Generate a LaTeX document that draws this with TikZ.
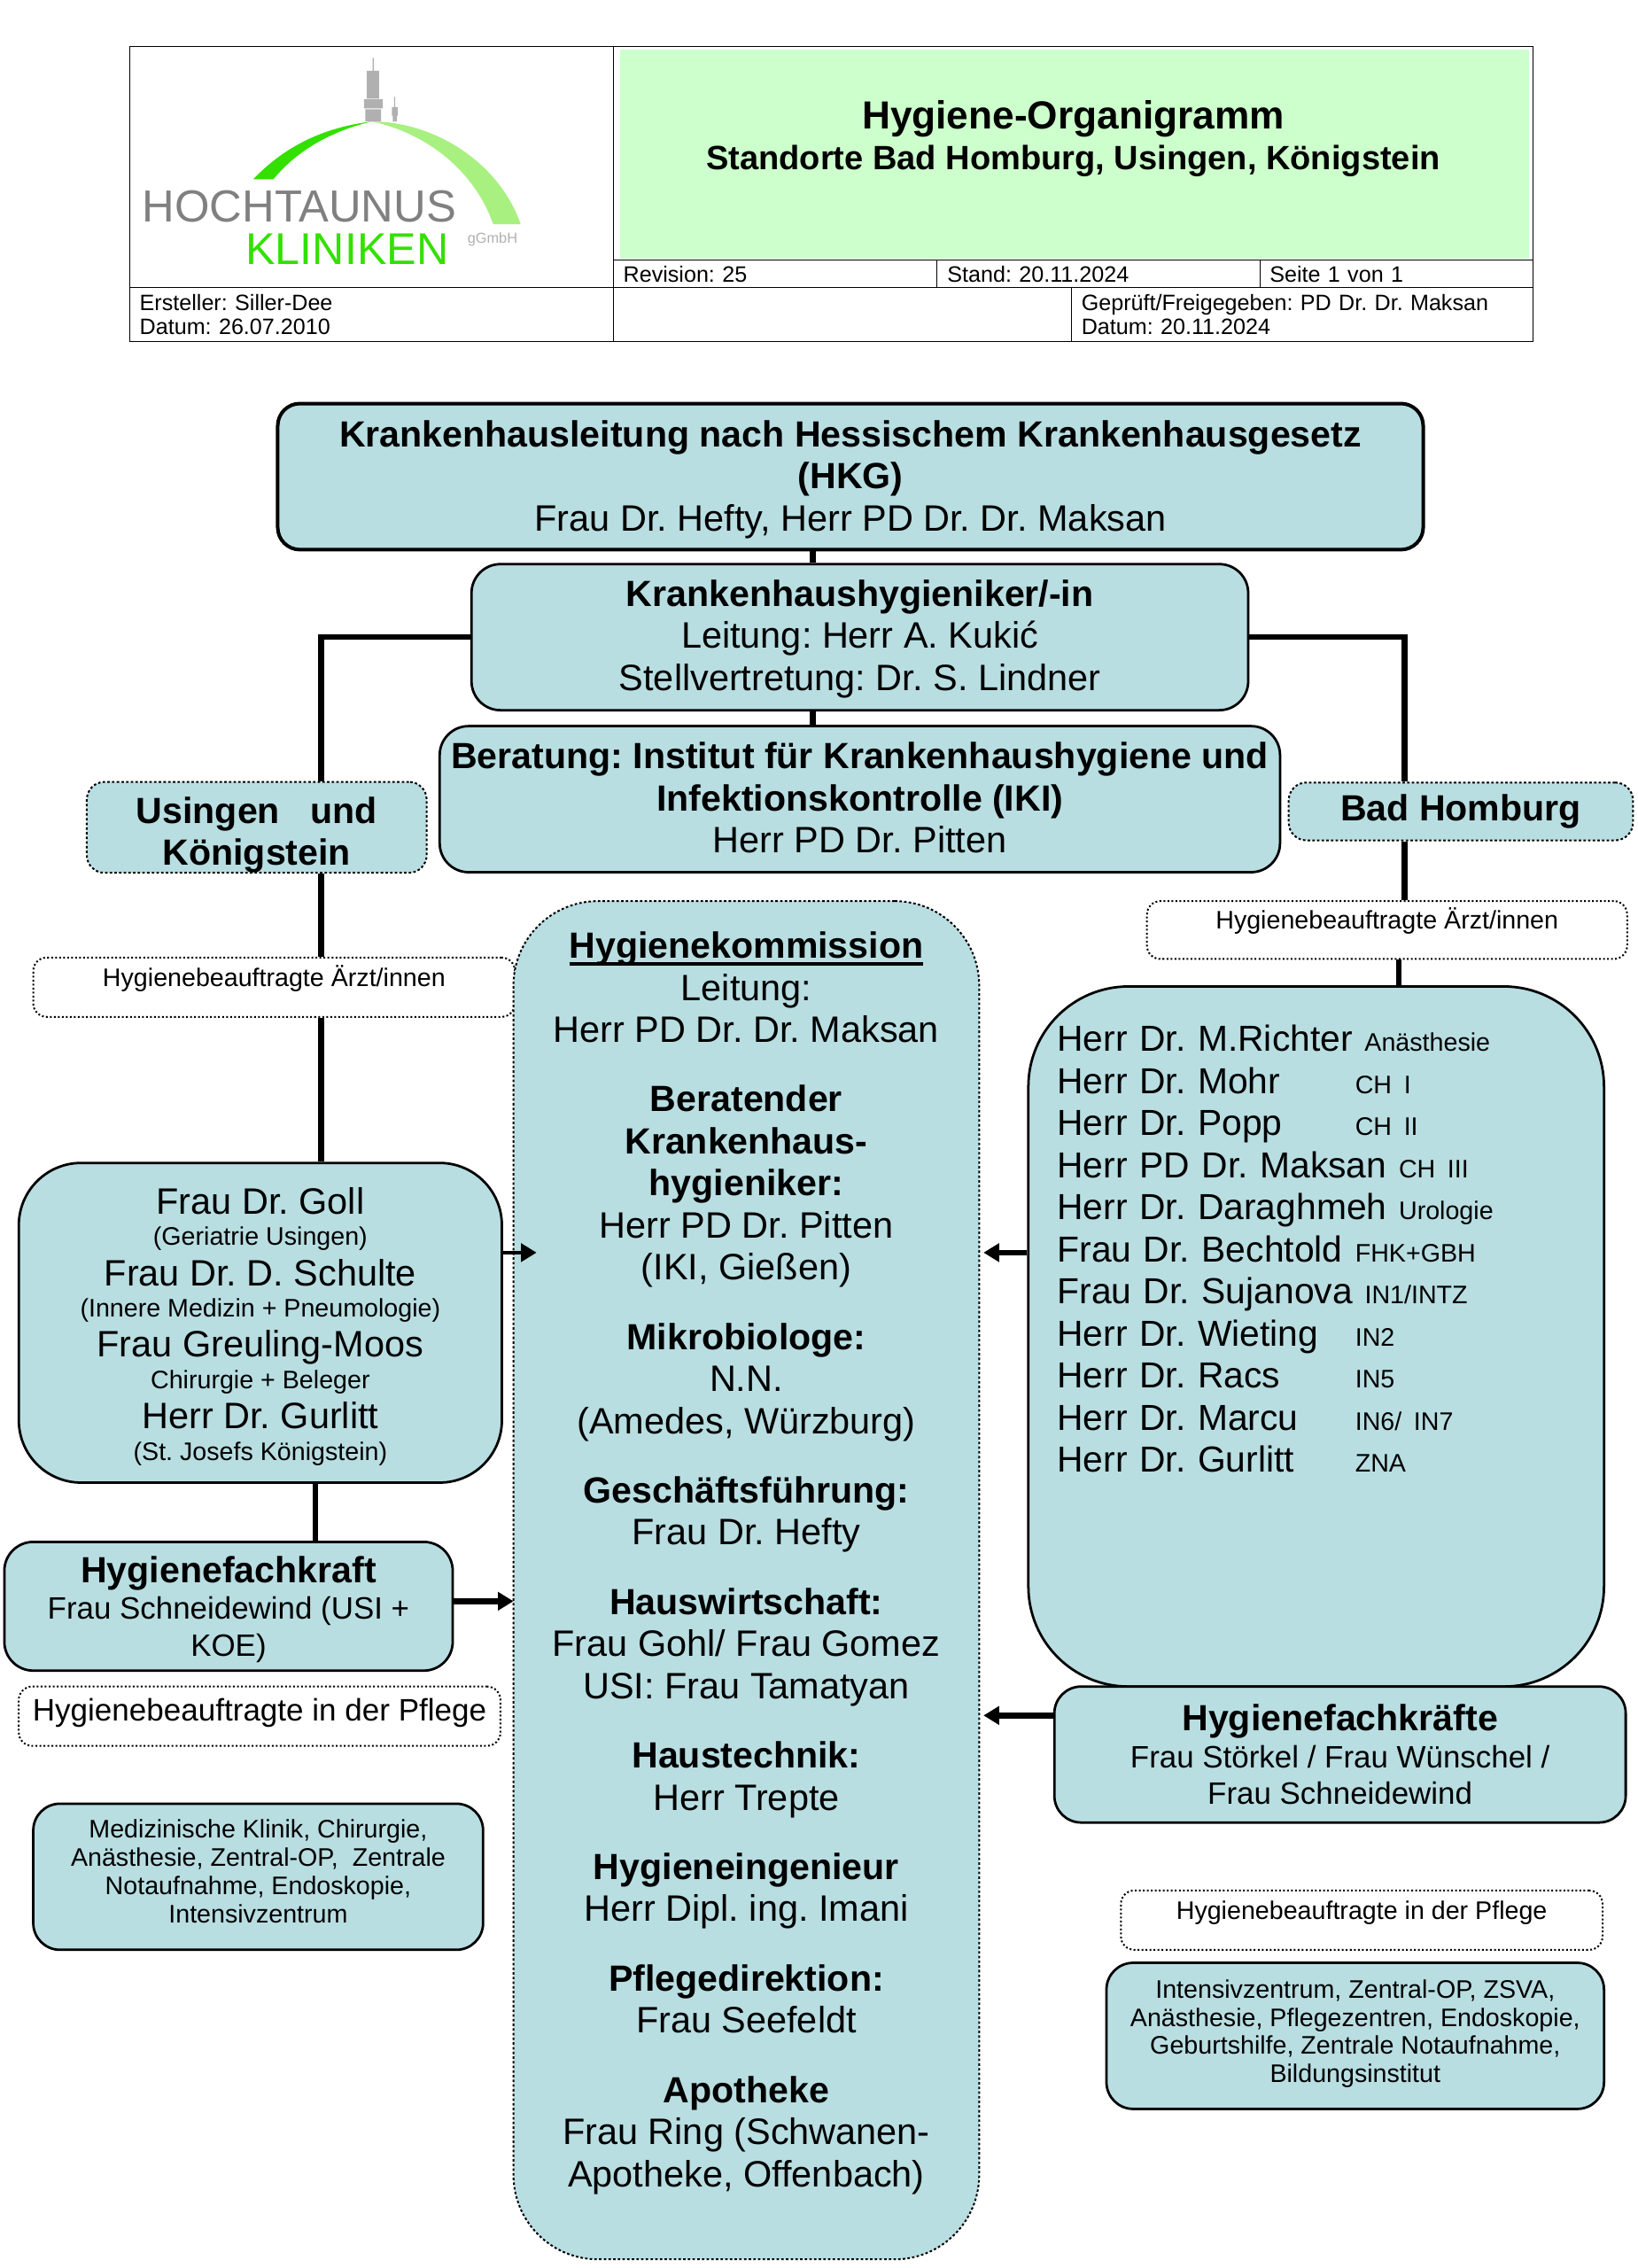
\documentclass[tikz,border=0pt]{standalone}
\usepackage{fontspec}
\setmainfont{Liberation Sans}
\usepackage{xcolor}
\usepackage{tikz}
\usetikzlibrary{positioning,calc,arrows.meta}
\definecolor{boxblue}{HTML}{B8DEE2}
\definecolor{titlegreen}{HTML}{CCFFCC}
\definecolor{logogreen}{HTML}{33E000}
\definecolor{logolight}{HTML}{A8F080}
\definecolor{logogray}{HTML}{808080}
\definecolor{towergray}{HTML}{B0B0B0}
\newcommand{\fsH}{\fontsize{16.37pt}{18.9pt}\selectfont\bfseries}
\newcommand{\fsN}{\fontsize{16.5pt}{18.9pt}\selectfont}
\newcommand{\fsS}{\fontsize{11.4pt}{12.7pt}\selectfont}
\newcommand{\fsT}{\fontsize{10pt}{11pt}\selectfont}
\newcommand{\doc}[2]{\makebox[133.9pt][l]{#1}{\fsS #2}}
\newcommand{\toppad}[1]{\rule{0pt}{#1}}
\newcommand{\botpad}[1]{\rule[-#1]{0pt}{#1}}
\newcommand{\kommline}[1]{\setbox0\hbox{#1}\rlap{\vrule width\wd0 height -1.9pt depth 3.5pt}\box0}
\tikzset{dim/.style 2 args={minimum width=#1*0.65pt, minimum height=#2*0.65pt}}
\tikzstyle{block} = [draw, line width=1.1pt, fill=boxblue, align=center, inner sep=0pt, font=\fsN]
\tikzstyle{dotblock} = [block, densely dotted, line width=0.8pt]
\tikzstyle{hbbox} = [draw, densely dotted, thick, fill=white, inner sep=0pt, font=\fsS, text height=7.5pt, text depth=8.5pt]
\tikzstyle{cell} = [draw, inner xsep=4pt, inner ysep=0pt, align=left, font=\fsT]
\tikzstyle{link} = [line width=2.6pt]
\tikzstyle{arrow} = [line width=2.6pt,-{Triangle[length=7pt,width=8pt]}]
\begin{document}
\frenchspacing
\begin{tikzpicture}[x=0.65pt, y=-0.65pt]
    \useasboundingbox (0,0) rectangle (1132,1568);
    % We start by placing the header
    \node [cell, dim={334}{167}] (logocell) at (257,115.5) {};
    \node [cell, dim={636}{148}] (titlecell) at (742,106) {};
    \fill [titlegreen] (429,34) rectangle (1057,179);
    \node [font=\fontsize{17.6pt}{20pt}\selectfont\bfseries, align=center, inner sep=0pt] (title) at (742,96) {Hygiene-Organigramm\\[-1.5pt]\fontsize{15.15pt}{18pt}\selectfont Standorte Bad Homburg, Usingen, Königstein};
    \node [cell, dim={224}{19}, text width=136.5pt] (revision) at (536,189.5) {Revision: 25};
    \node [cell, dim={223}{19}, text width=135.8pt] (stand) at (759.5,189.5) {Stand: 20.11.2024};
    \node [cell, dim={189}{19}, text width=113.9pt] (seite) at (965.5,189.5) {Seite 1 von 1};
    \node [cell, dim={334}{37}, text width=208.5pt] (ersteller) at (257,217.5) {Ersteller: Siller-Dee\\Datum: 26.07.2010};
    \node [cell, dim={317}{37}, text width=196pt] (leer) at (582.5,217.5) {};
    \node [cell, dim={319}{37}, text width=198.6pt] (geprueft) at (900.5,217.5) {Geprüft/Freigegeben: PD Dr. Dr. Maksan\\Datum: 20.11.2024};
    % Logo
    \fill [towergray] (257.6,40) rectangle (258.6,49) (253.6,49) rectangle (262,68) (251.7,68.5) rectangle (264.7,75) (252.5,75.5) rectangle (263.5,84);
    \fill [towergray] (272.5,67) rectangle (273.2,74) (271,74) rectangle (275,80) (271.6,80) rectangle (274.4,84);
    \fill [logogreen] (175,124) .. controls (198,100) and (225,88) .. (257,84) .. controls (232,90) and (207,102) .. (189,124) -- cycle;
    \fill [logolight] (257,84) .. controls (300,84) and (345,112) .. (360,155) -- (341,155) .. controls (328,118) and (295,92) .. (257,84) -- cycle;
    \node [text=logogray, font=\fontsize{20.2pt}{22pt}\selectfont, inner sep=0pt] (hochtaunus) at (207,143) {HOCHTAUNUS};
    \node [text=logogreen, font=\fontsize{20pt}{22pt}\selectfont, inner sep=0pt] (kliniken) at (240,172) {KLINIKEN};
    \node [text=towergray, font=\fontsize{6.5pt}{8pt}\selectfont, inner sep=0pt] (ggmbh) at (340.5,165.5) {gGmbH};
    % Top of the organigram
    \node [block, dim={792}{101}, line width=1.6pt, rounded corners=10pt] (khl) at (588,329.5) {{\fsH\toppad{14.3pt}Krankenhausleitung nach Hessischem Krankenhausgesetz}\\{\fsH (HKG)}\\Frau Dr. Hefty, Herr PD Dr. Dr. Maksan};
    \node [block, dim={537}{101}, rounded corners=13pt] (khh) at (594.5,440.5) {{\fsH\toppad{13.3pt}Krankenhaushygieniker/-in}\\Leitung: Herr A. Kukić\\Stellvertretung: Dr. S. Lindner};
    \node [block, dim={581}{101}, rounded corners=13pt] (beratung) at (594.5,552.5) {{\fsH Beratung: Institut für Krankenhaushygiene und}\\{\fsH Infektionskontrolle (IKI)}\\Herr PD Dr. Pitten\botpad{1.3pt}};
    \node [dotblock, dim={235}{62}, rounded corners=8pt] (usingen) at (177.5,572) {{\fsH\toppad{18.5pt}Usingen~~~und}\\{\fsH Königstein}};
    \node [dotblock, dim={238}{40}, rounded corners=8pt] (badh) at (1010,561) {{\fsH Bad Homburg}};
    % Physicians
    \node [hbbox, dim={332}{40}, rounded corners=6pt] (hbr) at (959,643) {Hygienebeauftragte Ärzt/innen};
    \node [hbbox, dim={333}{41}, rounded corners=6pt] (hbl) at (189.5,682.5) {Hygienebeauftragte Ärzt/innen};
    % Commission in the middle
    \node [dotblock, dim={322}{939}, rounded corners=38pt] (komm) at (516,1092.5) {{\fsH\kommline{Hygienekommission}}\\Leitung:\\Herr PD Dr. Dr. Maksan\\[12.3pt]
    {\fsH Beratender}\\{\fsH Krankenhaus-}\\{\fsH hygieniker:}\\Herr PD Dr. Pitten\\(IKI, Gießen)\\[12.3pt]
    {\fsH Mikrobiologe:}\\N.N.\\(Amedes, Würzburg)\\[12.3pt]
    {\fsH Geschäftsführung:}\\Frau Dr. Hefty\\[12.3pt]
    {\fsH Hauswirtschaft:}\\Frau Gohl/ Frau Gomez\\USI: Frau Tamatyan\\[12.3pt]
    {\fsH Haustechnik:}\\Herr Trepte\\[12.3pt]
    {\fsH Hygieneingenieur}\\Herr Dipl. ing. Imani\\[12.3pt]
    {\fsH Pflegedirektion:}\\Frau Seefeldt\\[12.3pt]
    {\fsH Apotheke}\\Frau Ring (Schwanen-\\Apotheke, Offenbach)\\\mbox{}};
    \node [block, dim={398}{484}, rounded corners=45pt, text width=232.7pt, align=left, font=\fontsize{16.25pt}{18.9pt}\selectfont] (liste) at (910,924) {Herr Dr. M.Richter {\fsS Anästhesie}\\\doc{Herr Dr. Mohr}{CH I}\\\doc{Herr Dr. Popp}{CH II}\\Herr PD Dr. Maksan {\fsS CH III}\\Herr Dr. Daraghmeh {\fsS Urologie}\\\doc{Frau Dr. Bechtold}{FHK+GBH}\\Frau Dr. Sujanova {\fsS IN1/INTZ}\\\doc{Herr Dr. Wieting}{IN2}\\\doc{Herr Dr. Racs}{IN5}\\\doc{Herr Dr. Marcu}{IN6/ IN7}\\\doc{Herr Dr. Gurlitt}{ZNA}\\[60pt]\mbox{}};
    \node [block, dim={334}{221}, rounded corners=28pt, font=\fontsize{16.5pt}{15.9pt}\selectfont] (goll) at (180,914.5) {\toppad{15.2pt}Frau Dr. Goll\\[-1.8pt]{\fsS (Geriatrie Usingen)}\\[2.2pt]Frau Dr. D. Schulte\\[-1.8pt]{\fsS (Innere Medizin + Pneumologie)}\\[2.2pt]Frau Greuling-Moos\\[-1.8pt]{\fsS Chirurgie + Beleger}\\[2.2pt]Herr Dr. Gurlitt\\[-1.8pt]{\fsS (St. Josefs Königstein)}};
    % Infection control staff
    \node [block, dim={310}{89}, rounded corners=13pt, font=\fontsize{13.9pt}{16.6pt}\selectfont] (hfk) at (158,1110.5) {{\fsH\toppad{14.6pt}Hygienefachkraft}\\Frau Schneidewind (USI +\\KOE)};
    \node [block, dim={395}{94}, rounded corners=12pt, font=\fontsize{13.9pt}{16.6pt}\selectfont] (hfks) at (926.5,1213) {{\fsH Hygienefachkräfte}\\Frau Störkel / Frau Wünschel /\\Frau Schneidewind};
    \node [hbbox, dim={333}{41}, rounded corners=6pt, font=\fontsize{13.95pt}{15pt}\selectfont, text height=10pt, text depth=6pt] (pfl) at (179.5,1186.5) {Hygienebeauftragte in der Pflege};
    \node [hbbox, dim={333}{41}, rounded corners=6pt] (pfr) at (941.5,1327.5) {Hygienebeauftragte in der Pflege};
    \node [block, dim={311}{101}, rounded corners=12pt, font=\fsS] (med) at (178.5,1297.5) {Medizinische Klinik, Chirurgie,\\Anästhesie, Zentral-OP,~~Zentrale\\Notaufnahme, Endoskopie,\\Intensivzentrum\botpad{5.2pt}};
    \node [block, dim={344}{101}, rounded corners=12pt, font=\fsS] (int) at (937,1407.5) {Intensivzentrum, Zentral-OP, ZSVA,\\Anästhesie, Pflegezentren, Endoskopie,\\Geburtshilfe, Zentrale Notaufnahme,\\Bildungsinstitut\botpad{4.3pt}};
    % Connections
    \coordinate (stemM) at (562,0);
    \coordinate (stemL) at (222,0);
    \coordinate (stemG) at (218,0);
    \coordinate (stemR) at (971,0);
    \coordinate (stemH) at (967,0);
    \coordinate (tipGoll) at (371,866);
    \coordinate (tipListe) at (680,866);
    \coordinate (tipHfk) at (355,1107);
    \coordinate (tipHfks) at (680,1186);
    \draw [link] (khl.south -| stemM) -- (khh.north -| stemM);
    \draw [link] (khh.south -| stemM) -- (beratung.north -| stemM);
    \draw [link] (khh.west) -| (usingen.north -| stemL);
    \draw [link] (usingen.south -| stemL) -- (hbl.north -| stemL);
    \draw [link] (hbl.south -| stemL) -- (goll.north -| stemL);
    \draw [link] (goll.south -| stemG) -- (hfk.north -| stemG);
    \draw [link] (khh.east) -| (badh.north -| stemR);
    \draw [link] (badh.south -| stemR) -- (hbr.north -| stemR);
    \draw [link] (hbr.south -| stemH) -- (liste.north -| stemH);
    \draw [arrow, line width=1.8pt] (goll.east |- tipGoll) -- (tipGoll);
    \draw [arrow] (liste.west |- tipListe) -- (tipListe);
    \draw [arrow] (hfk.east |- tipHfk) -- (tipHfk);
    \draw [arrow] (hfks.west |- tipHfks) -- (tipHfks);
\end{tikzpicture}
\end{document}
